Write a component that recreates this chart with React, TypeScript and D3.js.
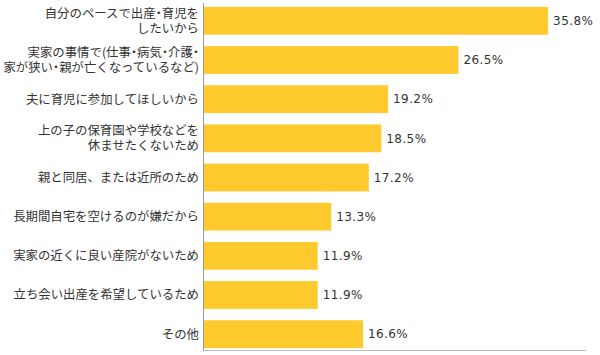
import React from "react";
import * as d3 from "d3";

const categories: string[][] = [
  ["自分のペースで出産・育児を", "したいから"],
  ["実家の事情で(仕事・病気・介護・", "家が狭い・親が亡くなっているなど)"],
  ["夫に育児に参加してほしいから"],
  ["上の子の保育園や学校などを", "休ませたくないため"],
  ["親と同居、または近所のため"],
  ["長期間自宅を空けるのが嫌だから"],
  ["実家の近くに良い産院がないため"],
  ["立ち会い出産を希望しているため"],
  ["その他"],
];
const values: number[] = [35.8, 26.5, 19.2, 18.5, 17.2, 13.3, 11.9, 11.9, 16.6];

const W = 600;
const H = 355;
const left = 203;
const FONT = "'Noto Sans CJK JP', 'Noto Sans', sans-serif";

export default function App() {
  const x = d3.scaleLinear().domain([0, 40]).range([left, left + 385.6]);
  const y = d3
    .scaleBand<number>()
    .domain(d3.range(categories.length))
    .range([3, 352])
    .paddingInner(0.29)
    .paddingOuter(0.1);
  const bw = y.bandwidth();
  return (
    <svg
      width={W}
      height={H}
      style={{ position: "absolute", left: 0, top: 0, background: "#fff" }}
      fontFamily={FONT}
    >
      {values.map((v, i) => {
        const y0 = y(i)!;
        const cy = y0 + bw / 2;
        const lines = categories[i];
        return (
          <g key={i}>
            <rect x={x(0)} y={y0} width={x(v) - x(0)} height={bw} fill="#FFCA2E" />
            <text
              x={x(v) + 5}
              y={cy}
              dy="0.35em"
              fontSize={12}
              fontFamily="'DejaVu Sans', sans-serif"
              letterSpacing={0.4}
              fill="#333"
            >
              {v.toFixed(1)}%
            </text>
            {lines.map((l, j) => (
              <text
                key={j}
                x={199}
                y={cy + (j - (lines.length - 1) / 2) * 15}
                dy="0.35em"
                textAnchor="end"
                fontSize={12.4}
                fill="#333"
                style={l.includes("・") ? { fontFeatureSettings: '"halt"' } : undefined}
              >
                {l}
              </text>
            ))}
          </g>
        );
      })}
      <line x1={left + 0.5} x2={left + 0.5} y1={3} y2={351} stroke="#999" strokeWidth={1} />
      <line x1={left} x2={586} y1={350.5} y2={350.5} stroke="#bbb" strokeWidth={1} />
    </svg>
  );
}
